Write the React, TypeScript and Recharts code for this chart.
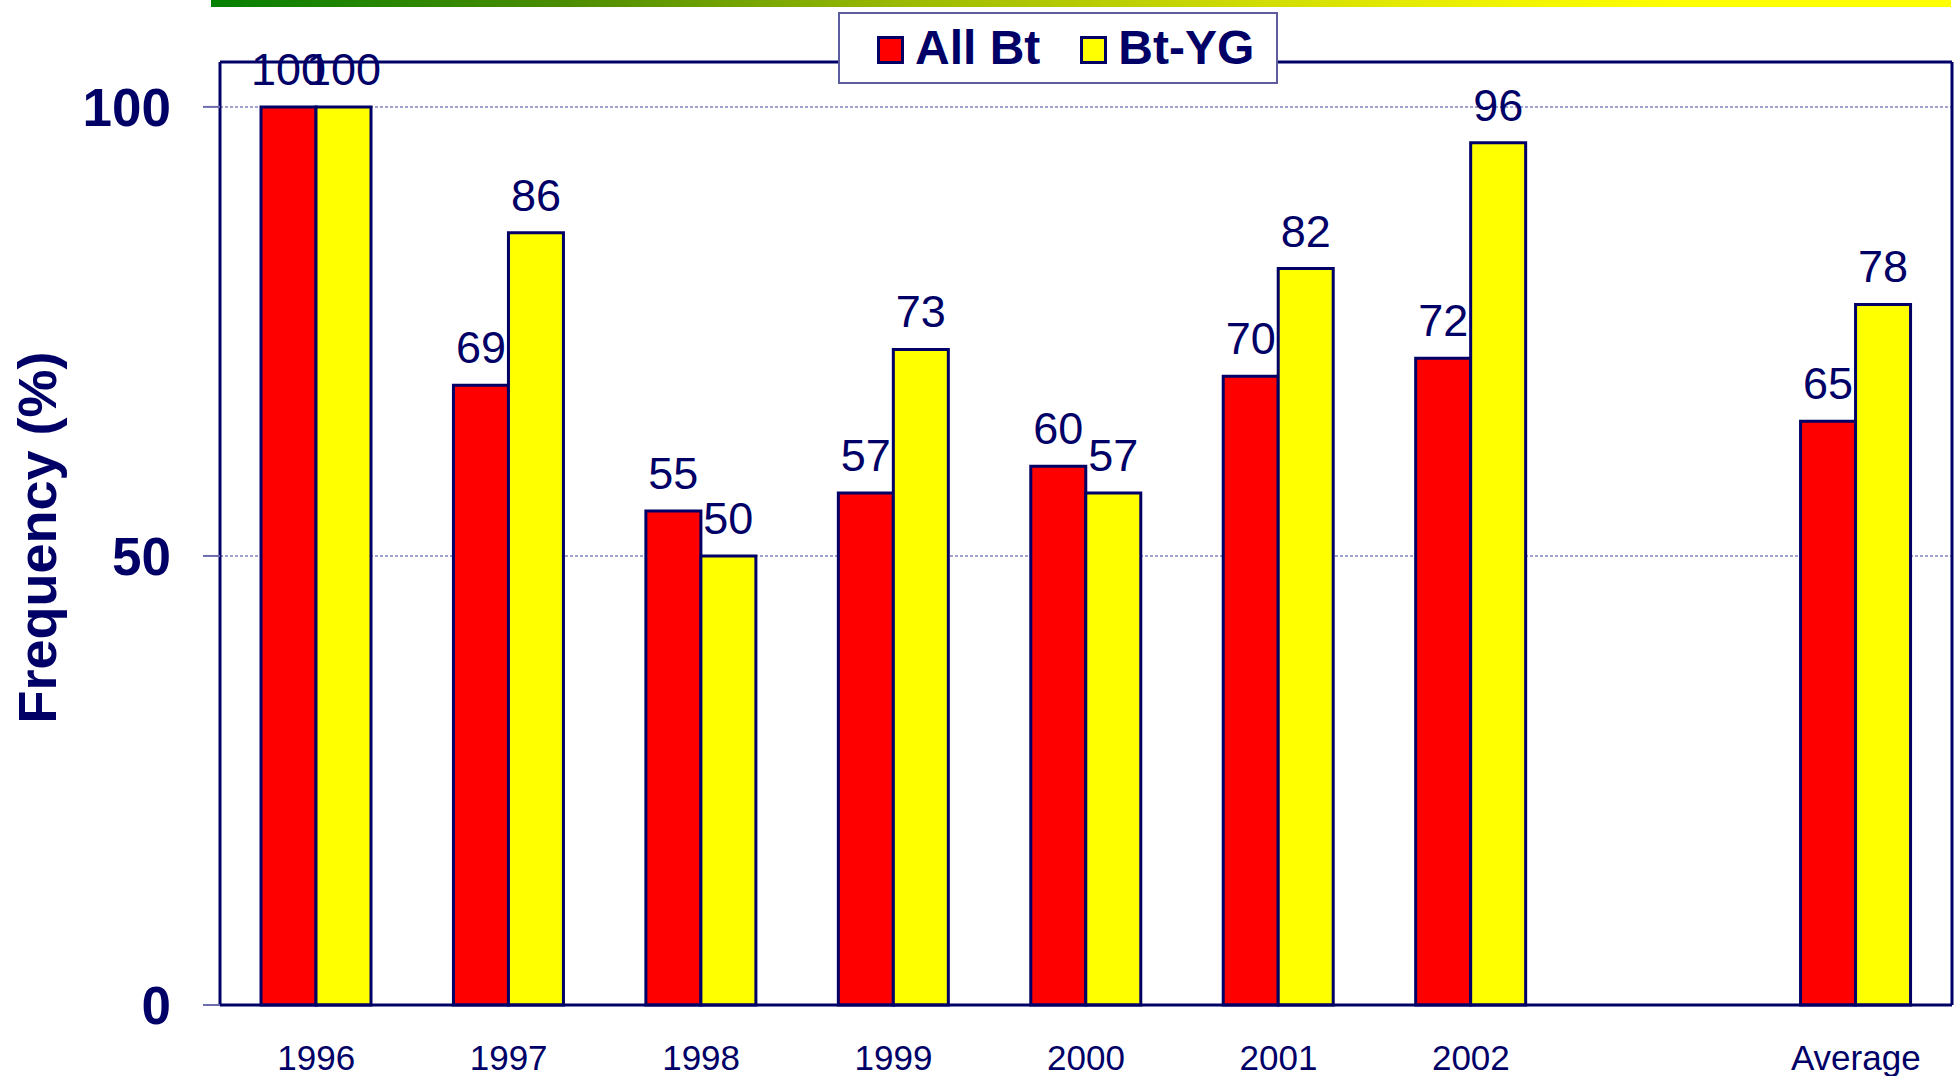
import React from 'react';
import { BarChart, Bar, XAxis, YAxis, CartesianGrid, LabelList, Legend, ReferenceLine } from 'recharts';

const categories = ['1996', '1997', '1998', '1999', '2000', '2001', '2002', '', 'Average'];
const allBt = [100, 69, 55, 57, 60, 70, 72, null, 65];
const btYG = [100, 86, 50, 73, 57, 82, 96, null, 78];
const yTicks = [0, 50, 100];
const seriesNames = ['All Bt', 'Bt-YG'];
const seriesColors = ['#ff0000', '#ffff00'];

const NAVY = '#000066';
const FONT = '"Liberation Sans", Arial, sans-serif';

const data = categories.map((c, i) => ({ name: c, allBt: allBt[i], btYG: btYG[i] }));

const XTick = (props: any) => {
  const { x, y, payload } = props;
  return (
    <text x={x} y={y + 65} textAnchor="middle" fill={NAVY} fontSize={35} fontFamily={FONT}>
      {payload.value}
    </text>
  );
};

const YLabel = (props: any) => {
  const vb = props.viewBox || { x: 0, y: 62, width: 220, height: 943 };
  const cx = 56;
  const cy = vb.y + vb.height / 2 + 4;
  return (
    <text x={cx} y={cy} transform={`rotate(-90 ${cx} ${cy})`} textAnchor="middle" fill={NAVY}
      fontSize={54} fontWeight="bold" fontFamily={FONT}>
      Frequency (%)
    </text>
  );
};

const LegendBox = () => (
  <div style={{
    boxSizing: 'border-box', width: 440, height: 72, background: '#fff',
    border: '2px solid #5c5c9e', display: 'flex', alignItems: 'center', paddingLeft: 37,
    fontFamily: FONT, fontWeight: 'bold', fontSize: 48, color: NAVY,
  }}>
    {seriesNames.map((n, i) => (
      <div key={n} style={{ display: 'flex', alignItems: 'center', marginRight: i === 0 ? 40 : 0 }}>
        <div style={{ boxSizing: 'border-box', width: 27, height: 28, background: seriesColors[i], border: `3px solid ${NAVY}`, marginRight: 11, marginTop: 4 }} />
        <span style={{ lineHeight: '1' }}>{n}</span>
      </div>
    ))}
  </div>
);

const fmt = (v: any) => (v === null || v === undefined ? '' : v);

export default function App() {
  return (
    <div style={{ position: 'absolute', left: 0, top: 0, width: 1958, height: 1076, background: '#fff' }}>
      <div style={{
        position: 'absolute', left: 211, top: 0, width: 1740, height: 7,
        background: 'linear-gradient(90deg, #068000 0%, #4a8c00 20%, #9cba00 40%, #d0dc00 60%, #f2f400 75%, #ffff00 85%, #ffff00 100%)',
      }} />
      <BarChart width={1958} height={1076} data={data} margin={{ top: 62, right: 0, bottom: 0, left: 0 }}
        barGap={0} barSize={55}>
        <CartesianGrid vertical={false} stroke="#8484c2" strokeDasharray="3 2" strokeWidth={1.5} />
        <XAxis dataKey="name" height={71} tick={<XTick />} tickLine={false} tickSize={0} tickMargin={0}
          axisLine={{ stroke: NAVY, strokeWidth: 3 }} interval={0} />
        <YAxis width={220} domain={[0, 105]} ticks={yTicks} tickSize={17} tickMargin={32}
          tick={{ fill: NAVY, fontSize: 53, fontWeight: 'bold', fontFamily: FONT }}
          tickLine={{ stroke: '#6c6cae', strokeWidth: 2 }} axisLine={{ stroke: NAVY, strokeWidth: 3 }}
          label={<YLabel />} />
        <YAxis yAxisId="right" orientation="right" width={6} tick={false} tickLine={false}
          axisLine={{ stroke: NAVY, strokeWidth: 3 }} />
        <ReferenceLine y={105} stroke={NAVY} strokeWidth={3} />
        <Legend layout="horizontal" verticalAlign="middle" align="center"
          wrapperStyle={{ left: 838, top: 12, width: 440, height: 72 }} content={<LegendBox />} />
        <Bar dataKey="allBt" name={seriesNames[0]} fill={seriesColors[0]} stroke={NAVY} strokeWidth={3} isAnimationActive={false}>
          <LabelList dataKey="allBt" position="top" offset={22} formatter={fmt} fill={NAVY} fontSize={45} fontFamily={FONT} />
        </Bar>
        <Bar dataKey="btYG" name={seriesNames[1]} fill={seriesColors[1]} stroke={NAVY} strokeWidth={3} isAnimationActive={false}>
          <LabelList dataKey="btYG" position="top" offset={22} formatter={fmt} fill={NAVY} fontSize={45} fontFamily={FONT} />
        </Bar>
      </BarChart>
    </div>
  );
}
